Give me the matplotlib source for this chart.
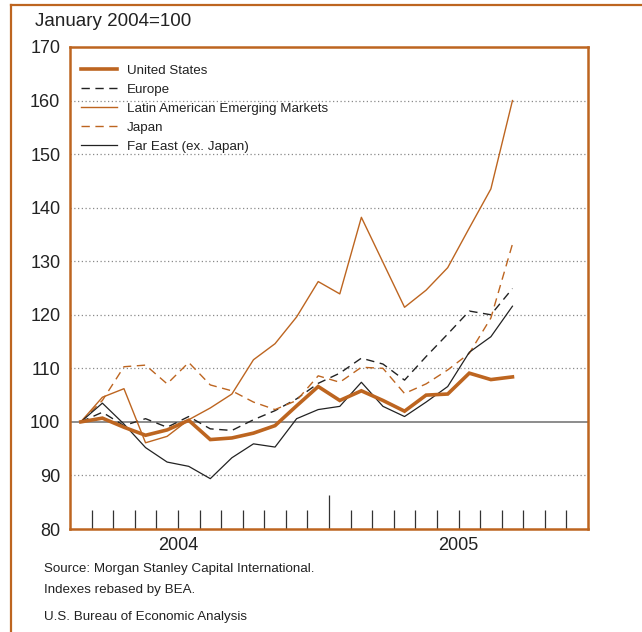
import matplotlib
matplotlib.use("Agg")
import matplotlib.pyplot as plt
from matplotlib import font_manager
from matplotlib.lines import Line2D

# ---------------- data ----------------
months = list(range(21))  # Jan 2004 .. Sep 2005
us = [100, 100.7, 99.0, 97.5, 98.5, 100.3, 96.7, 97.0, 97.9, 99.3, 103.0,
      106.6, 104.0, 105.8, 104.0, 102.0, 105.0, 105.2, 109.1, 107.9, 108.4]
europe = [100, 101.8, 99.3, 100.6, 99.0, 101.0, 98.7, 98.4, 100.4, 102.1, 104.3,
          107.2, 109.1, 111.9, 110.8, 107.8, 112.2, 116.4, 120.7, 120.0, 124.9]
latam = [100, 104.6, 106.2, 96.1, 97.3, 100.4, 102.6, 105.2, 111.6, 114.6, 119.6,
         126.2, 123.9, 138.2, 129.8, 121.4, 124.6, 128.8, 136.2, 143.5, 160.0]
japan = [100, 104.0, 110.3, 110.6, 107.1, 111.1, 106.9, 105.8, 103.7, 102.3, 104.0,
         108.6, 107.4, 110.2, 110.0, 105.3, 107.1, 109.7, 112.8, 119.4, 133.2]
fareast = [100, 103.5, 99.6, 95.2, 92.5, 91.7, 89.4, 93.3, 95.9, 95.3, 100.6,
           102.3, 102.9, 107.4, 102.9, 101.0, 103.7, 106.6, 113.0, 115.9, 121.6]
series_labels = ["United States", "Europe", "Latin American Emerging Markets",
                 "Japan", "Far East (ex. Japan)"]
year_labels = ["2004", "2005"]
yticks = [80, 90, 100, 110, 120, 130, 140, 150, 160, 170]

ORANGE = "#BD6520"
DARK = "#222222"
GRID = "#8a8a8a"

names = {f.name for f in font_manager.fontManager.ttflist}
REG = "Liberation Sans" if "Liberation Sans" in names else "DejaVu Sans"
if "Liberation Sans Narrow" in names:
    NARROW, NSIZE = "Liberation Sans Narrow", 11.5
else:
    NARROW, NSIZE = REG, 9.6

fig = plt.figure(figsize=(6.42, 6.32), dpi=100)
fig.patch.set_facecolor("white")

# outer open frame (top and left)
fig.add_artist(Line2D([11 / 642, 11 / 642], [0, 1 - 4.5 / 632], color=ORANGE, lw=1.6,
                      transform=fig.transFigure))
fig.add_artist(Line2D([11 / 642, 1], [1 - 4.5 / 632, 1 - 4.5 / 632], color=ORANGE, lw=1.6,
                      transform=fig.transFigure))

ax = fig.add_axes([70 / 642, 103 / 632, 518 / 642, 482 / 632])
ax.set_xlim(0, 24)
ax.set_ylim(80, 170)

x = [m + 0.5 for m in months]

# grid
for v in yticks:
    if v in (80, 170):
        continue
    if v == 100:
        ax.axhline(v, color="#6d6d6d", lw=1.1, zorder=1)
    else:
        ax.axhline(v, color=GRID, lw=0.9, ls=(0, (1, 2)), zorder=1)

dash = (0, (6, 4))
l_us, = ax.plot(x, us, color=ORANGE, lw=2.6, solid_joinstyle="miter", zorder=5)
l_eu, = ax.plot(x, europe, color=DARK, lw=1.0, ls=dash, zorder=4)
l_la, = ax.plot(x, latam, color=ORANGE, lw=1.0, zorder=4)
l_jp, = ax.plot(x, japan, color=ORANGE, lw=1.0, ls=dash, zorder=4)
l_fe, = ax.plot(x, fareast, color=DARK, lw=0.9, zorder=4)

leg = ax.legend([l_us, l_eu, l_la, l_jp, l_fe], series_labels, loc="upper left",
                bbox_to_anchor=(11 / 518, 1 - 17.5 / 482), borderaxespad=0, borderpad=0,
                frameon=False, handlelength=2.7, handletextpad=0.75, labelspacing=0.5,
                prop={"family": NARROW, "size": NSIZE})
for t in leg.get_texts():
    t.set_color(DARK)

for s in ax.spines.values():
    s.set_color(ORANGE)
    s.set_linewidth(1.8)

ax.set_yticks(yticks)
ax.set_yticklabels([str(v) for v in yticks], family=REG, fontsize=13, color=DARK)
ax.tick_params(axis="y", length=0, pad=7)

ax.xaxis.remove_overlapping_locs = False
ax.set_xticks(range(1, 24))
ax.set_xticklabels([])
ax.tick_params(axis="x", which="major", direction="in", length=13.5, width=0.9, color="#333333")
for i, tk in enumerate(ax.xaxis.get_major_ticks()):
    if i == 11:
        tk.tick1line.set_markersize(24.5)
ax.set_xticks([5, 18], minor=True)
ax.set_xticklabels(year_labels, minor=True, family=REG, fontsize=13, color=DARK)
ax.tick_params(axis="x", which="minor", length=0, pad=6)

fig.text(35 / 642, 1 - 22 / 632, "January 2004=100", family=REG, fontsize=13.5,
         color=DARK, va="center", ha="left")
fig.text(44 / 642, 1 - 569 / 632, "Source: Morgan Stanley Capital International.",
         family=NARROW, fontsize=NSIZE, color=DARK, va="center", ha="left")
fig.text(44 / 642, 1 - 590 / 632, "Indexes rebased by BEA.",
         family=NARROW, fontsize=NSIZE, color=DARK, va="center", ha="left")
fig.text(44 / 642, 1 - 617 / 632, "U.S. Bureau of Economic Analysis",
         family=NARROW, fontsize=NSIZE, color=DARK, va="center", ha="left")

fig.savefig("out.png", dpi=100, facecolor="white")
